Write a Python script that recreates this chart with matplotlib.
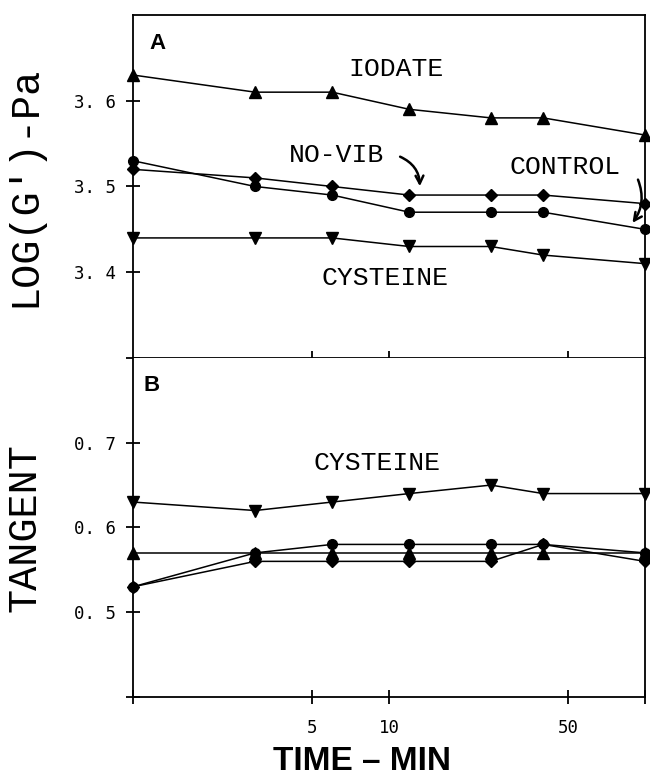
import numpy as np
import matplotlib
matplotlib.use('Agg')
import matplotlib.pyplot as plt

# time points (min), log axis
times = [1, 3, 6, 12, 25, 40, 100]

# panel A: log(G') - Pa
iodate_a = [3.63, 3.61, 3.61, 3.59, 3.58, 3.58, 3.56]
control_a = [3.53, 3.50, 3.49, 3.47, 3.47, 3.47, 3.45]
novib_a = [3.52, 3.51, 3.50, 3.49, 3.49, 3.49, 3.48]
cysteine_a = [3.44, 3.44, 3.44, 3.43, 3.43, 3.42, 3.41]

# panel B: tangent
cysteine_b = [0.63, 0.62, 0.63, 0.64, 0.65, 0.64, 0.64]
iodate_b = [0.57, 0.57, 0.57, 0.57, 0.57, 0.57, 0.57]
control_b = [0.53, 0.57, 0.58, 0.58, 0.58, 0.58, 0.57]
novib_b = [0.53, 0.56, 0.56, 0.56, 0.56, 0.58, 0.56]

xticks = [1, 5, 10, 50, 100]
xticklabels = ['', '5', '10', '50', '']
yticks_a = [3.3, 3.4, 3.5, 3.6]
yticklabels_a = ['', '3. 4', '3. 5', '3. 6']
yticks_b = [0.4, 0.5, 0.6, 0.7]
yticklabels_b = ['', '0. 5', '0. 6', '0. 7']

TICK_FONT = 'DejaVu Sans Mono'
LABEL_FONT = 'Liberation Mono'

fig = plt.figure(figsize=(6.5, 7.77), dpi=100)
ax_a = fig.add_axes([0.2046, 0.5393, 0.7877, 0.4414])
ax_b = fig.add_axes([0.2046, 0.1030, 0.7877, 0.4363])

line_kw = dict(color='black', lw=1.1, clip_on=False)


def style_axis(ax):
    ax.set_xscale('log')
    ax.set_xlim(1, 100)
    for sp in ax.spines.values():
        sp.set_linewidth(1.3)
    ax.tick_params(direction='inout', length=10, width=1.3, labelsize=12.5)
    ax.tick_params(axis='y', pad=7)
    ax.tick_params(axis='x', pad=11)


# ---- panel A
style_axis(ax_a)
ax_a.plot(times, iodate_a, marker='^', ms=8, **line_kw)
ax_a.plot(times, control_a, marker='o', ms=7, **line_kw)
ax_a.plot(times, novib_a, marker='D', ms=6.5, **line_kw)
ax_a.plot(times, cysteine_a, marker='v', ms=8, **line_kw)
ax_a.set_ylim(3.3, 3.7)
ax_a.set_yticks(yticks_a)
ax_a.set_yticklabels(yticklabels_a, fontfamily=TICK_FONT)
ax_a.set_xticks(xticks[1:4])
ax_a.set_xticklabels([])
ax_a.minorticks_off()
ax_a.tick_params(axis='x', direction='in', length=5)

ax_a.text(0.047, 0.918, 'A', transform=ax_a.transAxes, ha='center', va='center',
          fontsize=16, fontweight='bold', family='Liberation Sans')
ax_a.text(0.514, 0.843, 'IODATE', transform=ax_a.transAxes, ha='center', va='center',
          fontsize=19, family=LABEL_FONT)
ax_a.text(0.398, 0.592, 'NO-VIB', transform=ax_a.transAxes, ha='center', va='center',
          fontsize=19, family=LABEL_FONT)
ax_a.text(0.844, 0.557, 'CONTROL', transform=ax_a.transAxes, ha='center', va='center',
          fontsize=19, family=LABEL_FONT)
ax_a.text(0.492, 0.233, 'CYSTEINE', transform=ax_a.transAxes, ha='center', va='center',
          fontsize=19, family=LABEL_FONT)

arrow_kw = dict(arrowstyle='->', color='black', lw=1.8, mutation_scale=14)
ax_a.annotate('', xy=(13.2, 3.497), xytext=(10.8, 3.536),
              arrowprops=dict(connectionstyle='arc3,rad=-0.35', **arrow_kw))
ax_a.annotate('', xy=(88, 3.455), xytext=(93, 3.511),
              arrowprops=dict(connectionstyle='arc3,rad=-0.3', **arrow_kw))

ax_a.set_ylabel("LOG(G')-Pa", family=LABEL_FONT, fontsize=29, labelpad=22)

# ---- panel B
style_axis(ax_b)
ax_b.plot(times, cysteine_b, marker='v', ms=8, **line_kw)
ax_b.plot(times, iodate_b, marker='^', ms=8, **line_kw)
ax_b.plot(times, control_b, marker='o', ms=7, **line_kw)
ax_b.plot(times, novib_b, marker='D', ms=6.5, **line_kw)
ax_b.set_ylim(0.4, 0.8)
ax_b.set_yticks(yticks_b)
ax_b.set_yticklabels(yticklabels_b, fontfamily=TICK_FONT)
ax_b.set_xticks(xticks)
ax_b.set_xticklabels(xticklabels, fontfamily=TICK_FONT)
ax_b.minorticks_off()
ax_b.spines['top'].set_visible(False)

ax_b.text(0.037, 0.920, 'B', transform=ax_b.transAxes, ha='center', va='center',
          fontsize=16, fontweight='bold', family='Liberation Sans')
ax_b.text(0.477, 0.690, 'CYSTEINE', transform=ax_b.transAxes, ha='center', va='center',
          fontsize=19, family=LABEL_FONT)

ax_b.set_ylabel('TANGENT', family=LABEL_FONT, fontsize=29, labelpad=22)
ax_b.set_xlabel('TIME – MIN', family='Liberation Sans', fontweight='bold',
                fontsize=24)
ax_b.xaxis.set_label_coords(0.448, -0.145)

fig.align_ylabels([ax_a, ax_b])
fig.savefig('out.png', dpi=100)
